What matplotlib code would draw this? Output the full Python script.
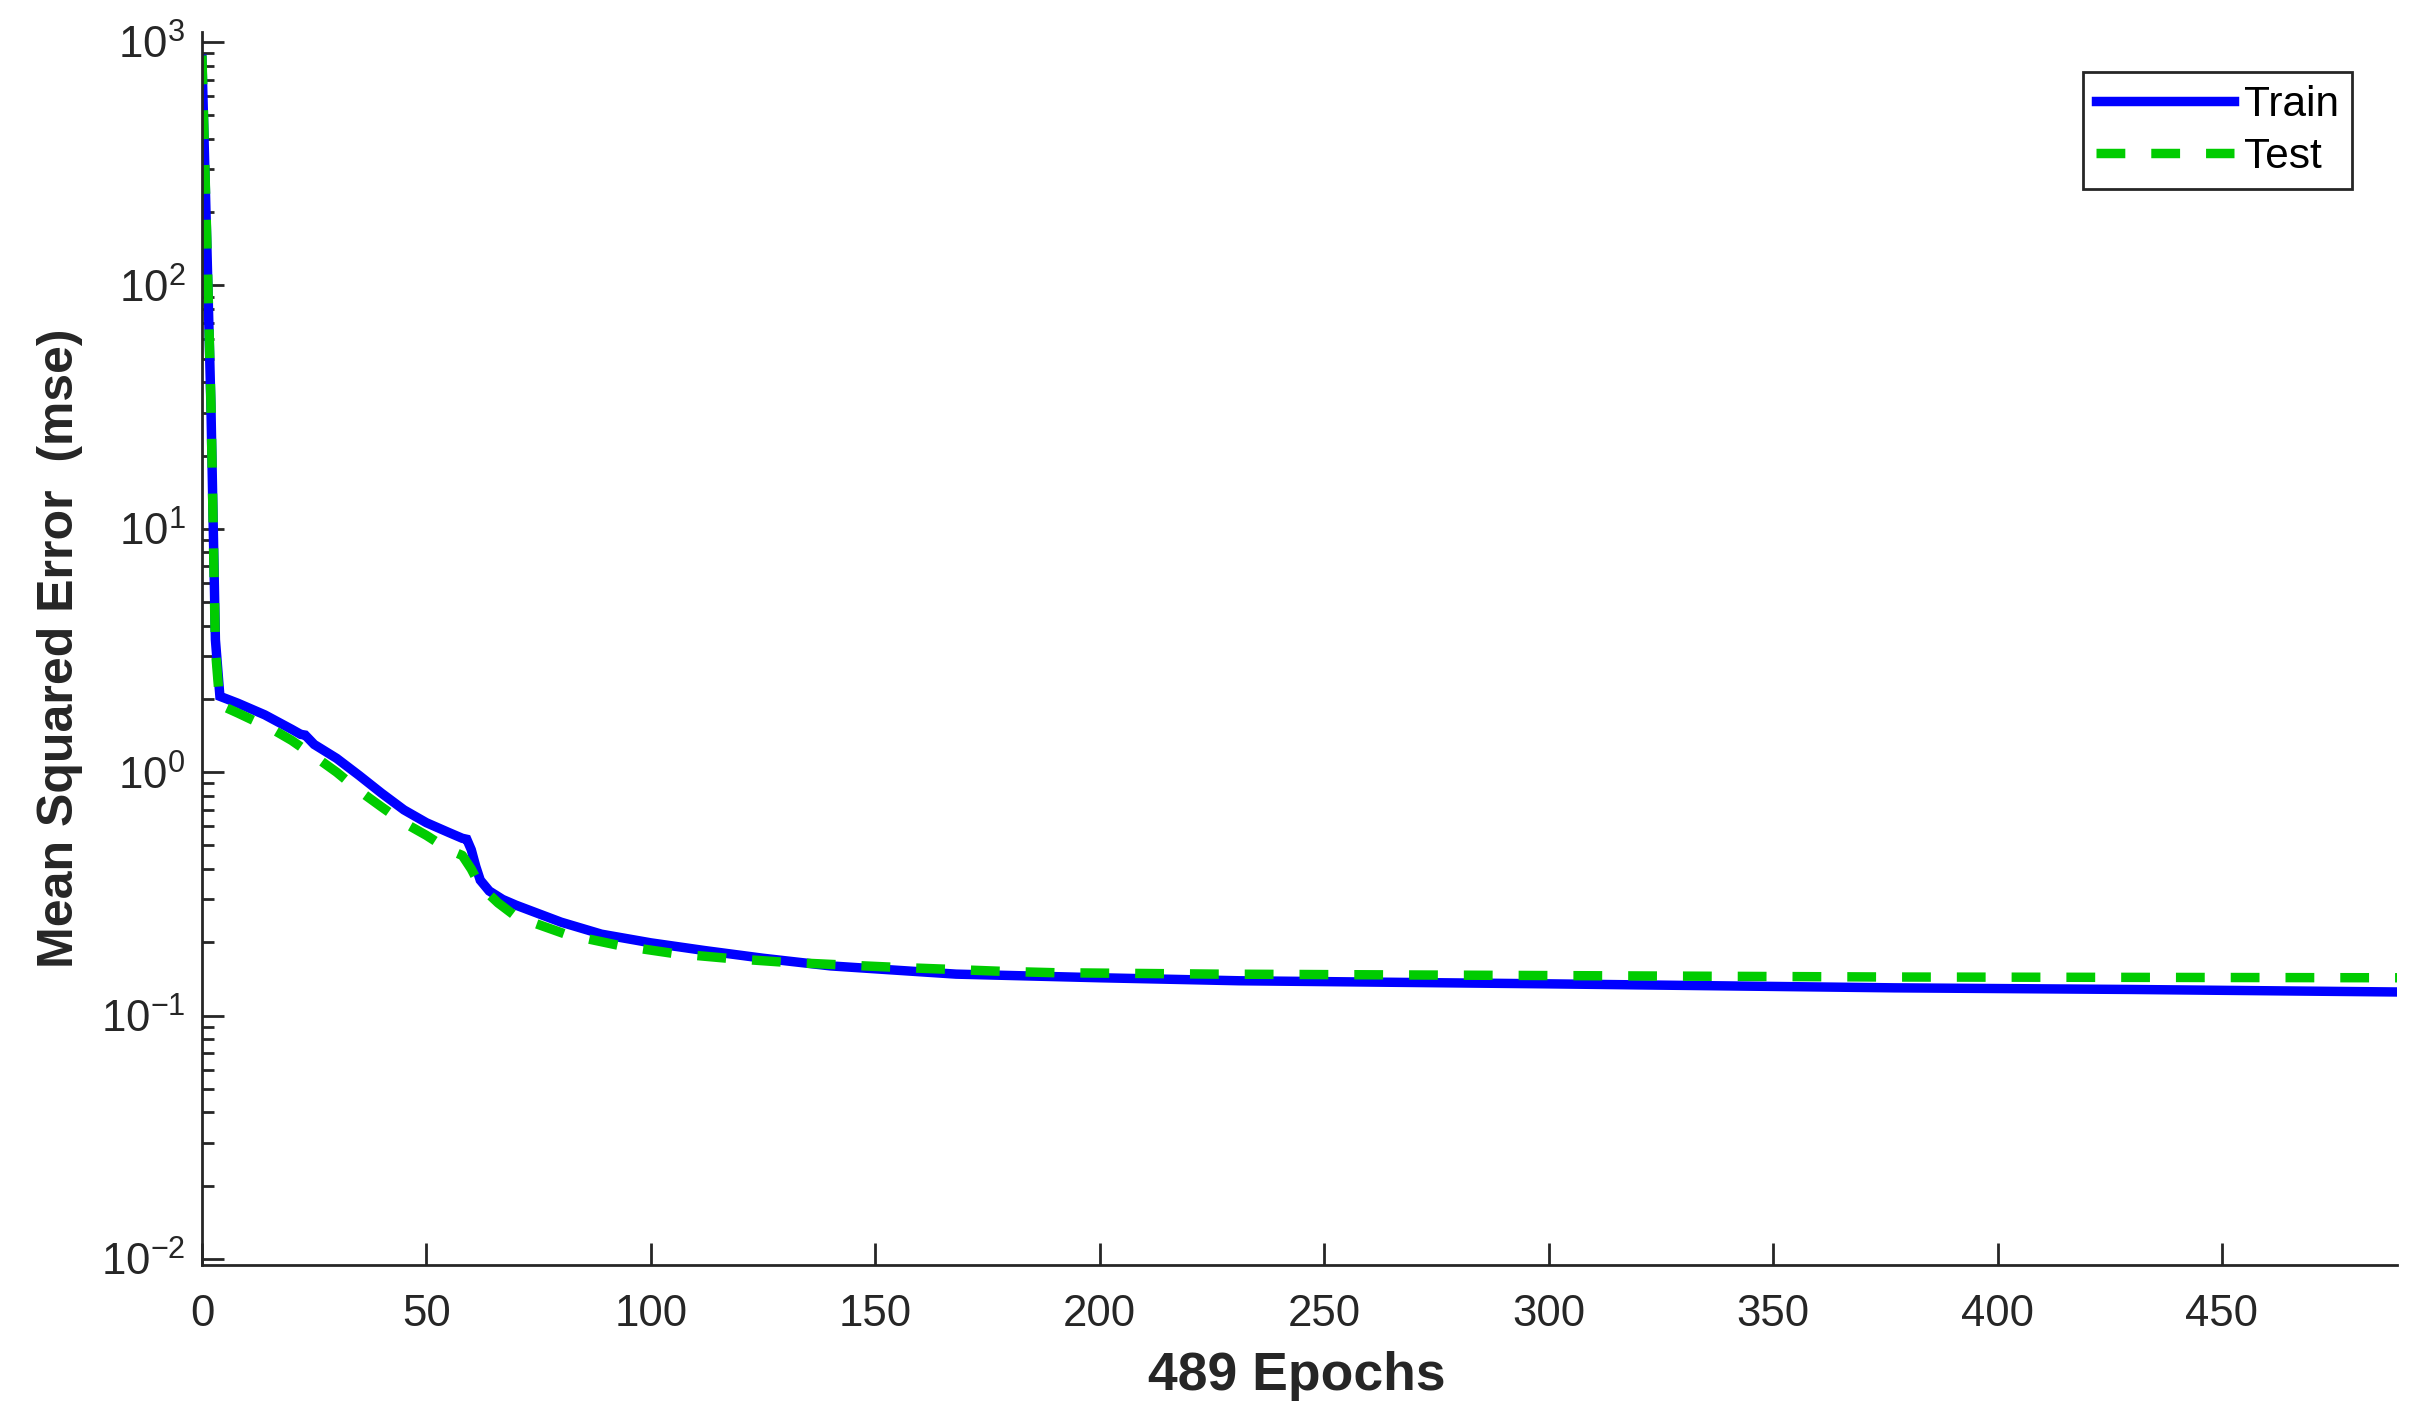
import matplotlib
matplotlib.use("Agg")
import matplotlib.pyplot as plt
from matplotlib.ticker import LogLocator, NullFormatter

plt.rcParams['font.family'] = ['Liberation Sans', 'DejaVu Sans']
plt.rcParams['mathtext.fontset'] = 'custom'
plt.rcParams['mathtext.rm'] = 'Liberation Sans'
plt.rcParams['mathtext.it'] = 'Liberation Sans:italic'
plt.rcParams['mathtext.bf'] = 'Liberation Sans:bold'

# values
train_epochs = [0, 1, 2, 3, 4, 8, 14, 20, 22, 23, 25, 30, 35, 40, 45, 50, 55, 58, 59,
                60, 61, 62, 64, 67, 70, 80, 89, 100, 112, 125, 140, 168, 200, 231,
                300, 377, 430, 489]
train_mse = [850, 170, 32, 3.5, 2.05, 1.92, 1.72, 1.50, 1.43, 1.42, 1.30, 1.14, 0.97,
             0.82, 0.70, 0.62, 0.565, 0.535, 0.53,
             0.48, 0.41, 0.36, 0.325, 0.30, 0.284, 0.242, 0.216, 0.199, 0.185, 0.172,
             0.160, 0.148, 0.143, 0.139, 0.135, 0.130, 0.128, 0.125]

test_epochs = [0, 1, 2, 3, 4, 8, 16, 20, 26, 30, 35, 40, 45, 50, 55, 58, 60, 62, 66,
               70, 81, 93, 105, 117, 129, 141, 154, 166, 178, 190, 226, 300, 377, 489]
test_mse = [880, 175, 33, 3.2, 1.89, 1.75, 1.49, 1.35, 1.13, 1.0, 0.84, 0.72, 0.62,
            0.55, 0.48, 0.455, 0.40, 0.34, 0.29,
            0.255, 0.216, 0.194, 0.180, 0.172, 0.166, 0.162, 0.158, 0.155, 0.152,
            0.150, 0.148, 0.146, 0.144, 0.143]

x_ticks = [0, 50, 100, 150, 200, 250, 300, 350, 400, 450]

dark = '#262626'

fig = plt.figure(figsize=(24.36, 14.23), dpi=100)
ax = fig.add_axes([0.0829, 0.111, 0.9011, 0.8665])

lw = 6.8
ax.plot(train_epochs, train_mse, color='#0000ff', lw=lw, label='Train',
        solid_joinstyle='miter')
ax.plot(test_epochs, test_mse, color='#00cc00', lw=lw, label='Test',
        dashes=(3.05, 2.75))

ax.set_yscale('log')
ax.set_xlim(0, 489)
ax.set_ylim(10 ** -2.025, 10 ** 3.041)
ax.set_xticks(x_ticks)
ax.yaxis.set_major_locator(LogLocator(base=10, numticks=10))
ax.yaxis.set_minor_locator(LogLocator(base=10, subs=range(2, 10), numticks=20))
ax.yaxis.set_minor_formatter(NullFormatter())

for s in ['top', 'right']:
    ax.spines[s].set_visible(False)
for s in ['left', 'bottom']:
    ax.spines[s].set_color(dark)
    ax.spines[s].set_linewidth(2)

ax.tick_params(axis='both', which='major', direction='in', length=16, width=2,
               colors=dark, labelsize=31.5)
ax.tick_params(axis='x', pad=21)
ax.tick_params(axis='y', pad=12)
ax.tick_params(axis='y', which='minor', direction='in', length=8.5, width=2,
               colors=dark)

ax.set_xlabel('489 Epochs', fontsize=38.5, fontweight='bold', color=dark)
ax.set_ylabel('Mean Squared Error  (mse)', fontsize=36, fontweight='bold', color=dark)
ax.xaxis.set_label_coords(0.499, -0.07)
ax.yaxis.set_label_coords(-0.054, 0.5)

leg = ax.legend(loc='upper right', bbox_to_anchor=(0.9795, 0.9675), borderaxespad=0,
                fontsize=30.5, handlelength=3.25, handletextpad=0.25, borderpad=0.3,
                labelspacing=0.28, fancybox=False, framealpha=1)
leg.get_frame().set_edgecolor(dark)
leg.get_frame().set_linewidth(2)

fig.savefig('out.png', dpi=100)
